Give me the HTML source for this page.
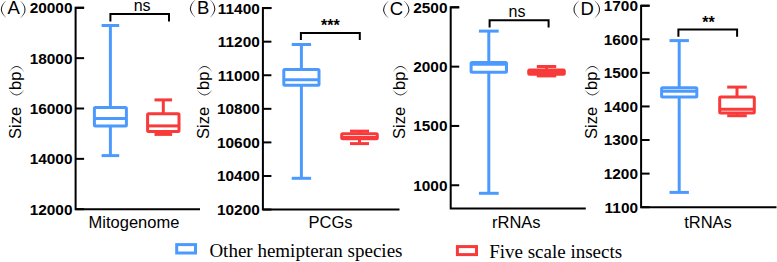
<!DOCTYPE html>
<html><head><meta charset="utf-8"><style>
html,body{margin:0;padding:0;background:#fff;}
svg{display:block;}
.tk{font-family:"Liberation Sans",sans-serif;font-weight:bold;font-size:15.4px;fill:#000;}
.lab{font-family:"Liberation Sans",sans-serif;font-size:16.5px;fill:#000;}
.sig{font-family:"Liberation Sans",sans-serif;font-size:16px;fill:#000;}
.st{font-family:"Liberation Sans",sans-serif;font-size:16px;font-weight:bold;fill:#000;}
.let{font-family:"Liberation Sans",sans-serif;font-size:18.5px;fill:#000;}
.leg{font-family:"Liberation Serif",serif;font-size:19px;fill:#000;}
</style></head><body>
<svg width="777" height="262" viewBox="0 0 777 262">
<path d="M84.1,7.8 H75.6 V209.2 H200" fill="none" stroke="#000" stroke-width="2"/>
<line x1="75.6" y1="7.8" x2="84.1" y2="7.8" stroke="#000" stroke-width="2"/>
<text transform="translate(72.5,7.8)" y="5.45" class="tk" text-anchor="end">20000</text>
<line x1="75.6" y1="58.15" x2="84.1" y2="58.15" stroke="#000" stroke-width="2"/>
<text transform="translate(72.5,58.15)" y="5.45" class="tk" text-anchor="end">18000</text>
<line x1="75.6" y1="108.5" x2="84.1" y2="108.5" stroke="#000" stroke-width="2"/>
<text transform="translate(72.5,108.5)" y="5.45" class="tk" text-anchor="end">16000</text>
<line x1="75.6" y1="158.85" x2="84.1" y2="158.85" stroke="#000" stroke-width="2"/>
<text transform="translate(72.5,158.85)" y="5.45" class="tk" text-anchor="end">14000</text>
<line x1="75.6" y1="209.2" x2="84.1" y2="209.2" stroke="#000" stroke-width="2"/>
<text transform="translate(72.5,209.2)" y="5.45" class="tk" text-anchor="end">12000</text>
<line x1="110.4" y1="25.5" x2="110.4" y2="107.4" stroke="#4d9aff" stroke-width="3"/>
<line x1="110.4" y1="126" x2="110.4" y2="155.6" stroke="#4d9aff" stroke-width="3"/>
<line x1="101.60000000000001" y1="25.5" x2="119.2" y2="25.5" stroke="#4d9aff" stroke-width="3"/>
<line x1="101.60000000000001" y1="155.6" x2="119.2" y2="155.6" stroke="#4d9aff" stroke-width="3"/>
<rect x="94.4" y="107.4" width="32" height="18.599999999999994" fill="#fff" stroke="#4d9aff" stroke-width="3" rx="1"/>
<line x1="94.4" y1="118.6" x2="126.4" y2="118.6" stroke="#4d9aff" stroke-width="3"/>
<line x1="163.3" y1="99.9" x2="163.3" y2="113.8" stroke="#f83a3a" stroke-width="3"/>
<line x1="163.3" y1="131.5" x2="163.3" y2="134.4" stroke="#f83a3a" stroke-width="3"/>
<line x1="154.5" y1="99.9" x2="172.10000000000002" y2="99.9" stroke="#f83a3a" stroke-width="3"/>
<line x1="154.5" y1="134.4" x2="172.10000000000002" y2="134.4" stroke="#f83a3a" stroke-width="3"/>
<rect x="147.60000000000002" y="113.8" width="31.4" height="17.700000000000003" fill="#fff" stroke="#f83a3a" stroke-width="3" rx="1"/>
<line x1="147.60000000000002" y1="125.9" x2="179.0" y2="125.9" stroke="#f83a3a" stroke-width="3"/>
<path d="M110.4,21.5 V14 H169 V21.5" fill="none" stroke="#000" stroke-width="2"/>
<text x="133.7" y="10.5" class="sig">ns</text>
<g transform="translate(21,139) rotate(-90)"><text x="0" y="0" class="lab">Size</text><text x="49" y="0" class="lab">bp</text><path d="M48.40,-11.60 Q38.60,-4.35 48.40,2.90 L48.65,2.90 Q40.35,-4.35 48.65,-11.60 Z" fill="#222"/><path d="M67.50,-11.60 Q78.30,-4.35 67.50,2.90 L67.25,2.90 Q76.55,-4.35 67.25,-11.60 Z" fill="#222"/></g>
<path d="M5.70,1.10 Q-4.10,9.35 5.70,17.60 L5.95,17.60 Q-2.15,9.35 5.95,1.10 Z" fill="#222"/>
<text x="7.6" y="14.4" class="let">A</text>
<path d="M20.60,1.10 Q30.60,9.55 20.60,18.00 L20.35,18.00 Q28.65,9.55 20.35,1.10 Z" fill="#222"/><path d="M271.4,8.1 H262.9 V209.55 H399.5" fill="none" stroke="#000" stroke-width="2"/>
<line x1="262.9" y1="8.1" x2="271.4" y2="8.1" stroke="#000" stroke-width="2"/>
<text transform="translate(259.8,8.1)" y="5.45" class="tk" text-anchor="end">11400</text>
<line x1="262.9" y1="41.68" x2="271.4" y2="41.68" stroke="#000" stroke-width="2"/>
<text transform="translate(259.8,41.68)" y="5.45" class="tk" text-anchor="end">11200</text>
<line x1="262.9" y1="75.25" x2="271.4" y2="75.25" stroke="#000" stroke-width="2"/>
<text transform="translate(259.8,75.25)" y="5.45" class="tk" text-anchor="end">11000</text>
<line x1="262.9" y1="108.83" x2="271.4" y2="108.83" stroke="#000" stroke-width="2"/>
<text transform="translate(259.8,108.83)" y="5.45" class="tk" text-anchor="end">10800</text>
<line x1="262.9" y1="142.4" x2="271.4" y2="142.4" stroke="#000" stroke-width="2"/>
<text transform="translate(259.8,142.4)" y="5.45" class="tk" text-anchor="end">10600</text>
<line x1="262.9" y1="175.98" x2="271.4" y2="175.98" stroke="#000" stroke-width="2"/>
<text transform="translate(259.8,175.98)" y="5.45" class="tk" text-anchor="end">10400</text>
<line x1="262.9" y1="209.55" x2="271.4" y2="209.55" stroke="#000" stroke-width="2"/>
<text transform="translate(259.8,209.55)" y="5.45" class="tk" text-anchor="end">10200</text>
<line x1="301.4" y1="44.5" x2="301.4" y2="69.4" stroke="#4d9aff" stroke-width="3"/>
<line x1="301.4" y1="85.2" x2="301.4" y2="178.3" stroke="#4d9aff" stroke-width="3"/>
<line x1="291.7" y1="44.5" x2="311.09999999999997" y2="44.5" stroke="#4d9aff" stroke-width="3"/>
<line x1="291.7" y1="178.3" x2="311.09999999999997" y2="178.3" stroke="#4d9aff" stroke-width="3"/>
<rect x="283.79999999999995" y="69.4" width="35.2" height="15.799999999999997" fill="#fff" stroke="#4d9aff" stroke-width="3" rx="1"/>
<line x1="283.79999999999995" y1="79.8" x2="319.0" y2="79.8" stroke="#4d9aff" stroke-width="3"/>
<line x1="359.5" y1="131.15" x2="359.5" y2="133.8" stroke="#f83a3a" stroke-width="3"/>
<line x1="359.5" y1="138.7" x2="359.5" y2="143.6" stroke="#f83a3a" stroke-width="3"/>
<line x1="350.0" y1="131.15" x2="369.0" y2="131.15" stroke="#f83a3a" stroke-width="3"/>
<line x1="350.0" y1="143.6" x2="369.0" y2="143.6" stroke="#f83a3a" stroke-width="3"/>
<rect x="341.7" y="133.8" width="35.6" height="4.899999999999977" fill="#fff" stroke="#f83a3a" stroke-width="3" rx="1"/>
<line x1="341.7" y1="137.5" x2="377.3" y2="137.5" stroke="#f83a3a" stroke-width="3"/>
<path d="M300.9,40.1 V32.9 H359.8 V40.1" fill="none" stroke="#000" stroke-width="2"/>
<text x="321" y="31" class="st">***</text>
<g transform="translate(209,139) rotate(-90)"><text x="0" y="0" class="lab">Size</text><text x="49" y="0" class="lab">bp</text><path d="M48.40,-11.60 Q38.60,-4.35 48.40,2.90 L48.65,2.90 Q40.35,-4.35 48.65,-11.60 Z" fill="#222"/><path d="M67.50,-11.60 Q78.30,-4.35 67.50,2.90 L67.25,2.90 Q76.55,-4.35 67.25,-11.60 Z" fill="#222"/></g>
<path d="M195.00,0.00 Q184.80,8.50 195.00,17.00 L195.25,17.00 Q186.75,8.50 195.25,0.00 Z" fill="#222"/>
<text x="197" y="14" class="let">B</text>
<path d="M210.50,0.00 Q220.10,8.60 210.50,17.20 L210.25,17.20 Q218.15,8.60 210.25,0.00 Z" fill="#222"/><path d="M459.2,7.35 H450.7 V208.6 H585.8" fill="none" stroke="#000" stroke-width="2"/>
<line x1="450.7" y1="7.35" x2="459.2" y2="7.35" stroke="#000" stroke-width="2"/>
<text transform="translate(447.5,7.35)" y="5.45" class="tk" text-anchor="end">2500</text>
<line x1="450.7" y1="66.65" x2="459.2" y2="66.65" stroke="#000" stroke-width="2"/>
<text transform="translate(447.5,66.65)" y="5.45" class="tk" text-anchor="end">2000</text>
<line x1="450.7" y1="125.95" x2="459.2" y2="125.95" stroke="#000" stroke-width="2"/>
<text transform="translate(447.5,125.95)" y="5.45" class="tk" text-anchor="end">1500</text>
<line x1="450.7" y1="185.25" x2="459.2" y2="185.25" stroke="#000" stroke-width="2"/>
<text transform="translate(447.5,185.25)" y="5.45" class="tk" text-anchor="end">1000</text>
<line x1="488.8" y1="31.1" x2="488.8" y2="62.4" stroke="#4d9aff" stroke-width="3"/>
<line x1="488.8" y1="72.2" x2="488.8" y2="193.3" stroke="#4d9aff" stroke-width="3"/>
<line x1="478.90000000000003" y1="31.1" x2="498.7" y2="31.1" stroke="#4d9aff" stroke-width="3"/>
<line x1="478.90000000000003" y1="193.3" x2="498.7" y2="193.3" stroke="#4d9aff" stroke-width="3"/>
<rect x="471.1" y="62.4" width="35.4" height="9.800000000000004" fill="#fff" stroke="#4d9aff" stroke-width="3" rx="1"/>
<line x1="471.1" y1="64.2" x2="506.5" y2="64.2" stroke="#4d9aff" stroke-width="3"/>
<line x1="546.5" y1="66.5" x2="546.5" y2="70.1" stroke="#f83a3a" stroke-width="3"/>
<line x1="546.5" y1="74.2" x2="546.5" y2="75.9" stroke="#f83a3a" stroke-width="3"/>
<line x1="536.8" y1="66.5" x2="556.2" y2="66.5" stroke="#f83a3a" stroke-width="3"/>
<line x1="536.8" y1="75.9" x2="556.2" y2="75.9" stroke="#f83a3a" stroke-width="3"/>
<rect x="528.7" y="70.1" width="35.6" height="4.1000000000000085" fill="#fff" stroke="#f83a3a" stroke-width="3" rx="1"/>
<line x1="528.7" y1="72.2" x2="564.3" y2="72.2" stroke="#f83a3a" stroke-width="3"/>
<path d="M489.6,27.5 V20.2 H548.6 V27.5" fill="none" stroke="#000" stroke-width="2"/>
<text x="508.5" y="16.5" class="sig">ns</text>
<g transform="translate(404.8,139) rotate(-90)"><text x="0" y="0" class="lab">Size</text><text x="49" y="0" class="lab">bp</text><path d="M48.40,-11.60 Q38.60,-4.35 48.40,2.90 L48.65,2.90 Q40.35,-4.35 48.65,-11.60 Z" fill="#222"/><path d="M67.50,-11.60 Q78.30,-4.35 67.50,2.90 L67.25,2.90 Q76.55,-4.35 67.25,-11.60 Z" fill="#222"/></g>
<path d="M388.40,1.00 Q377.80,9.55 388.40,18.10 L388.65,18.10 Q379.75,9.55 388.65,1.00 Z" fill="#222"/>
<text x="389.7" y="14.6" class="let">C</text>
<path d="M404.10,1.00 Q414.70,9.50 404.10,18.00 L403.85,18.00 Q412.75,9.50 403.85,1.00 Z" fill="#222"/><path d="M649.6,5.7 H641.1 V207.2 H776.5" fill="none" stroke="#000" stroke-width="2"/>
<line x1="641.1" y1="5.7" x2="649.6" y2="5.7" stroke="#000" stroke-width="2"/>
<text transform="translate(638,5.7)" y="5.45" class="tk" text-anchor="end">1700</text>
<line x1="641.1" y1="39.28" x2="649.6" y2="39.28" stroke="#000" stroke-width="2"/>
<text transform="translate(638,39.28)" y="5.45" class="tk" text-anchor="end">1600</text>
<line x1="641.1" y1="72.87" x2="649.6" y2="72.87" stroke="#000" stroke-width="2"/>
<text transform="translate(638,72.87)" y="5.45" class="tk" text-anchor="end">1500</text>
<line x1="641.1" y1="106.45" x2="649.6" y2="106.45" stroke="#000" stroke-width="2"/>
<text transform="translate(638,106.45)" y="5.45" class="tk" text-anchor="end">1400</text>
<line x1="641.1" y1="140.03" x2="649.6" y2="140.03" stroke="#000" stroke-width="2"/>
<text transform="translate(638,140.03)" y="5.45" class="tk" text-anchor="end">1300</text>
<line x1="641.1" y1="173.62" x2="649.6" y2="173.62" stroke="#000" stroke-width="2"/>
<text transform="translate(638,173.62)" y="5.45" class="tk" text-anchor="end">1200</text>
<line x1="641.1" y1="207.2" x2="649.6" y2="207.2" stroke="#000" stroke-width="2"/>
<text transform="translate(638,207.2)" y="5.45" class="tk" text-anchor="end">1100</text>
<line x1="679.2" y1="40.6" x2="679.2" y2="87.7" stroke="#4d9aff" stroke-width="3"/>
<line x1="679.2" y1="97.1" x2="679.2" y2="192.4" stroke="#4d9aff" stroke-width="3"/>
<line x1="669.5" y1="40.6" x2="688.9000000000001" y2="40.6" stroke="#4d9aff" stroke-width="3"/>
<line x1="669.5" y1="192.4" x2="688.9000000000001" y2="192.4" stroke="#4d9aff" stroke-width="3"/>
<rect x="661.6" y="87.7" width="35.2" height="9.399999999999991" fill="#fff" stroke="#4d9aff" stroke-width="3" rx="1"/>
<line x1="661.6" y1="91.3" x2="696.8000000000001" y2="91.3" stroke="#4d9aff" stroke-width="3"/>
<line x1="737" y1="87.1" x2="737" y2="97.1" stroke="#f83a3a" stroke-width="3"/>
<line x1="737" y1="113.1" x2="737" y2="115.7" stroke="#f83a3a" stroke-width="3"/>
<line x1="727.2" y1="87.1" x2="746.8" y2="87.1" stroke="#f83a3a" stroke-width="3"/>
<line x1="727.2" y1="115.7" x2="746.8" y2="115.7" stroke="#f83a3a" stroke-width="3"/>
<rect x="719.7" y="97.1" width="34.6" height="16.0" fill="#fff" stroke="#f83a3a" stroke-width="3" rx="1"/>
<line x1="719.7" y1="109.3" x2="754.3" y2="109.3" stroke="#f83a3a" stroke-width="3"/>
<path d="M678.4,36.7 V29.6 H737.1 V36.7" fill="none" stroke="#000" stroke-width="2"/>
<text x="702.3" y="27.9" class="st">**</text>
<g transform="translate(596.8,139) rotate(-90)"><text x="0" y="0" class="lab">Size</text><text x="49" y="0" class="lab">bp</text><path d="M48.40,-11.60 Q38.60,-4.35 48.40,2.90 L48.65,2.90 Q40.35,-4.35 48.65,-11.60 Z" fill="#222"/><path d="M67.50,-11.60 Q78.30,-4.35 67.50,2.90 L67.25,2.90 Q76.55,-4.35 67.25,-11.60 Z" fill="#222"/></g>
<path d="M578.80,0.80 Q568.00,9.40 578.80,18.00 L579.05,18.00 Q569.95,9.40 579.05,0.80 Z" fill="#222"/>
<text x="580.4" y="14.7" class="let">D</text>
<path d="M594.80,0.80 Q605.40,9.40 594.80,18.00 L594.55,18.00 Q603.45,9.40 594.55,0.80 Z" fill="#222"/>
<text x="134" y="227.5" class="lab" text-anchor="middle">Mitogenome</text>
<text x="330.5" y="227.5" class="lab" text-anchor="middle">PCGs</text>
<text x="516.3" y="227.5" class="lab" text-anchor="middle">rRNAs</text>
<text x="708" y="227.5" class="lab" text-anchor="middle">tRNAs</text>

<rect x="176.7" y="244.6" width="18.8" height="8.4" fill="#fff" stroke="#4d9aff" stroke-width="3"/>
<text x="209.4" y="257" class="leg">Other hemipteran species</text>
<rect x="457.4" y="246.6" width="19.1" height="8" fill="#fff" stroke="#f83a3a" stroke-width="3"/>
<text x="489.2" y="258.3" class="leg">Five scale insects</text>

</svg>
</body></html>
